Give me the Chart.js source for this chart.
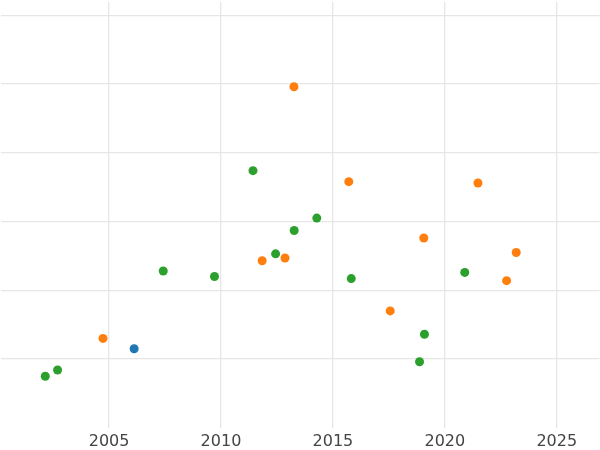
<!DOCTYPE html>
<html>
<head>
<meta charset="utf-8">
<script src="https://cdn.jsdelivr.net/npm/chart.js@4/dist/chart.umd.min.js"></script>
<style>
    html, body { margin: 0; padding: 0; background: #ffffff; overflow: hidden; }
    body { width: 600px; height: 450px; position: relative; }
    /* canvas a bit larger than the page so the plot area reaches the edges */
    #wrap { position: absolute; left: -4px; top: -3px; width: 608px; height: 454px; }
</style>
</head>
<body>
<div id="wrap"><canvas id="scatter-chart"></canvas></div>
<script>
// Values (x = year, y = unlabelled value)
const blueYears = [2006.12];
const blueValues = [1.15];

const orangeYears = [2004.73, 2011.84, 2012.86, 2013.26, 2015.71, 2017.56, 2019.06, 2021.48, 2022.76, 2023.19];
const orangeValues = [1.30, 2.43, 2.47, 4.96, 3.58, 1.70, 2.76, 3.56, 2.14, 2.55];

const greenYears = [2002.15, 2002.70, 2007.42, 2009.71, 2011.43, 2012.44, 2013.27, 2014.28, 2015.82, 2018.87, 2019.09, 2020.89];
const greenValues = [0.75, 0.84, 2.28, 2.20, 3.74, 2.53, 2.87, 3.05, 2.17, 0.96, 1.36, 2.26];

const xTickValues = [2005, 2010, 2015, 2020, 2025];
const yTickValues = [1, 2, 3, 4, 5, 6];

// Pair up x and y arrays into points
function toPoints(xs, ys) {
    return xs.map((x, i) => ({ x: x, y: ys[i] }));
}

function makeSet(xs, ys, color) {
    return {
        data: toPoints(xs, ys),
        backgroundColor: color,
        borderColor: color,
        borderWidth: 0,
        pointRadius: 4.5,
        pointHoverRadius: 4.5
    };
}

var ctx = document.getElementById('scatter-chart').getContext('2d');
var myChart = new Chart(ctx, {
    type: 'scatter',
    data: {
        datasets: [
            makeSet(blueYears, blueValues, '#1f77b4'),
            makeSet(orangeYears, orangeValues, '#ff7f0e'),
            makeSet(greenYears, greenValues, '#2ca02c')
        ]
    },
    options: {
        responsive: true,
        maintainAspectRatio: false,
        animation: false,
        layout: { padding: { left: 0, right: 0, top: 0, bottom: -4 } },
        plugins: {
            legend: { display: false },
            tooltip: { enabled: false }
        },
        scales: {
            x: {
                type: 'linear',
                min: 2000.15,
                max: 2026.91,
                afterBuildTicks: function (scale) {
                    scale.ticks = xTickValues.map(v => ({ value: v }));
                },
                grid: { color: '#e6e6e6', lineWidth: 1.3, drawTicks: false },
                border: { display: false },
                ticks: {
                    padding: 4,
                    color: '#444444',
                    font: { family: 'DejaVu Sans', size: 16 },
                    maxRotation: 0,
                    callback: function (value) { return String(value); }
                }
            },
            y: {
                type: 'linear',
                min: 0,
                max: 6.2,
                afterBuildTicks: function (scale) {
                    scale.ticks = yTickValues.map(v => ({ value: v }));
                },
                grid: { color: '#e6e6e6', lineWidth: 1.3, drawTicks: false },
                border: { display: false },
                ticks: { display: false }
            }
        }
    }
});
</script>
</body>
</html>
